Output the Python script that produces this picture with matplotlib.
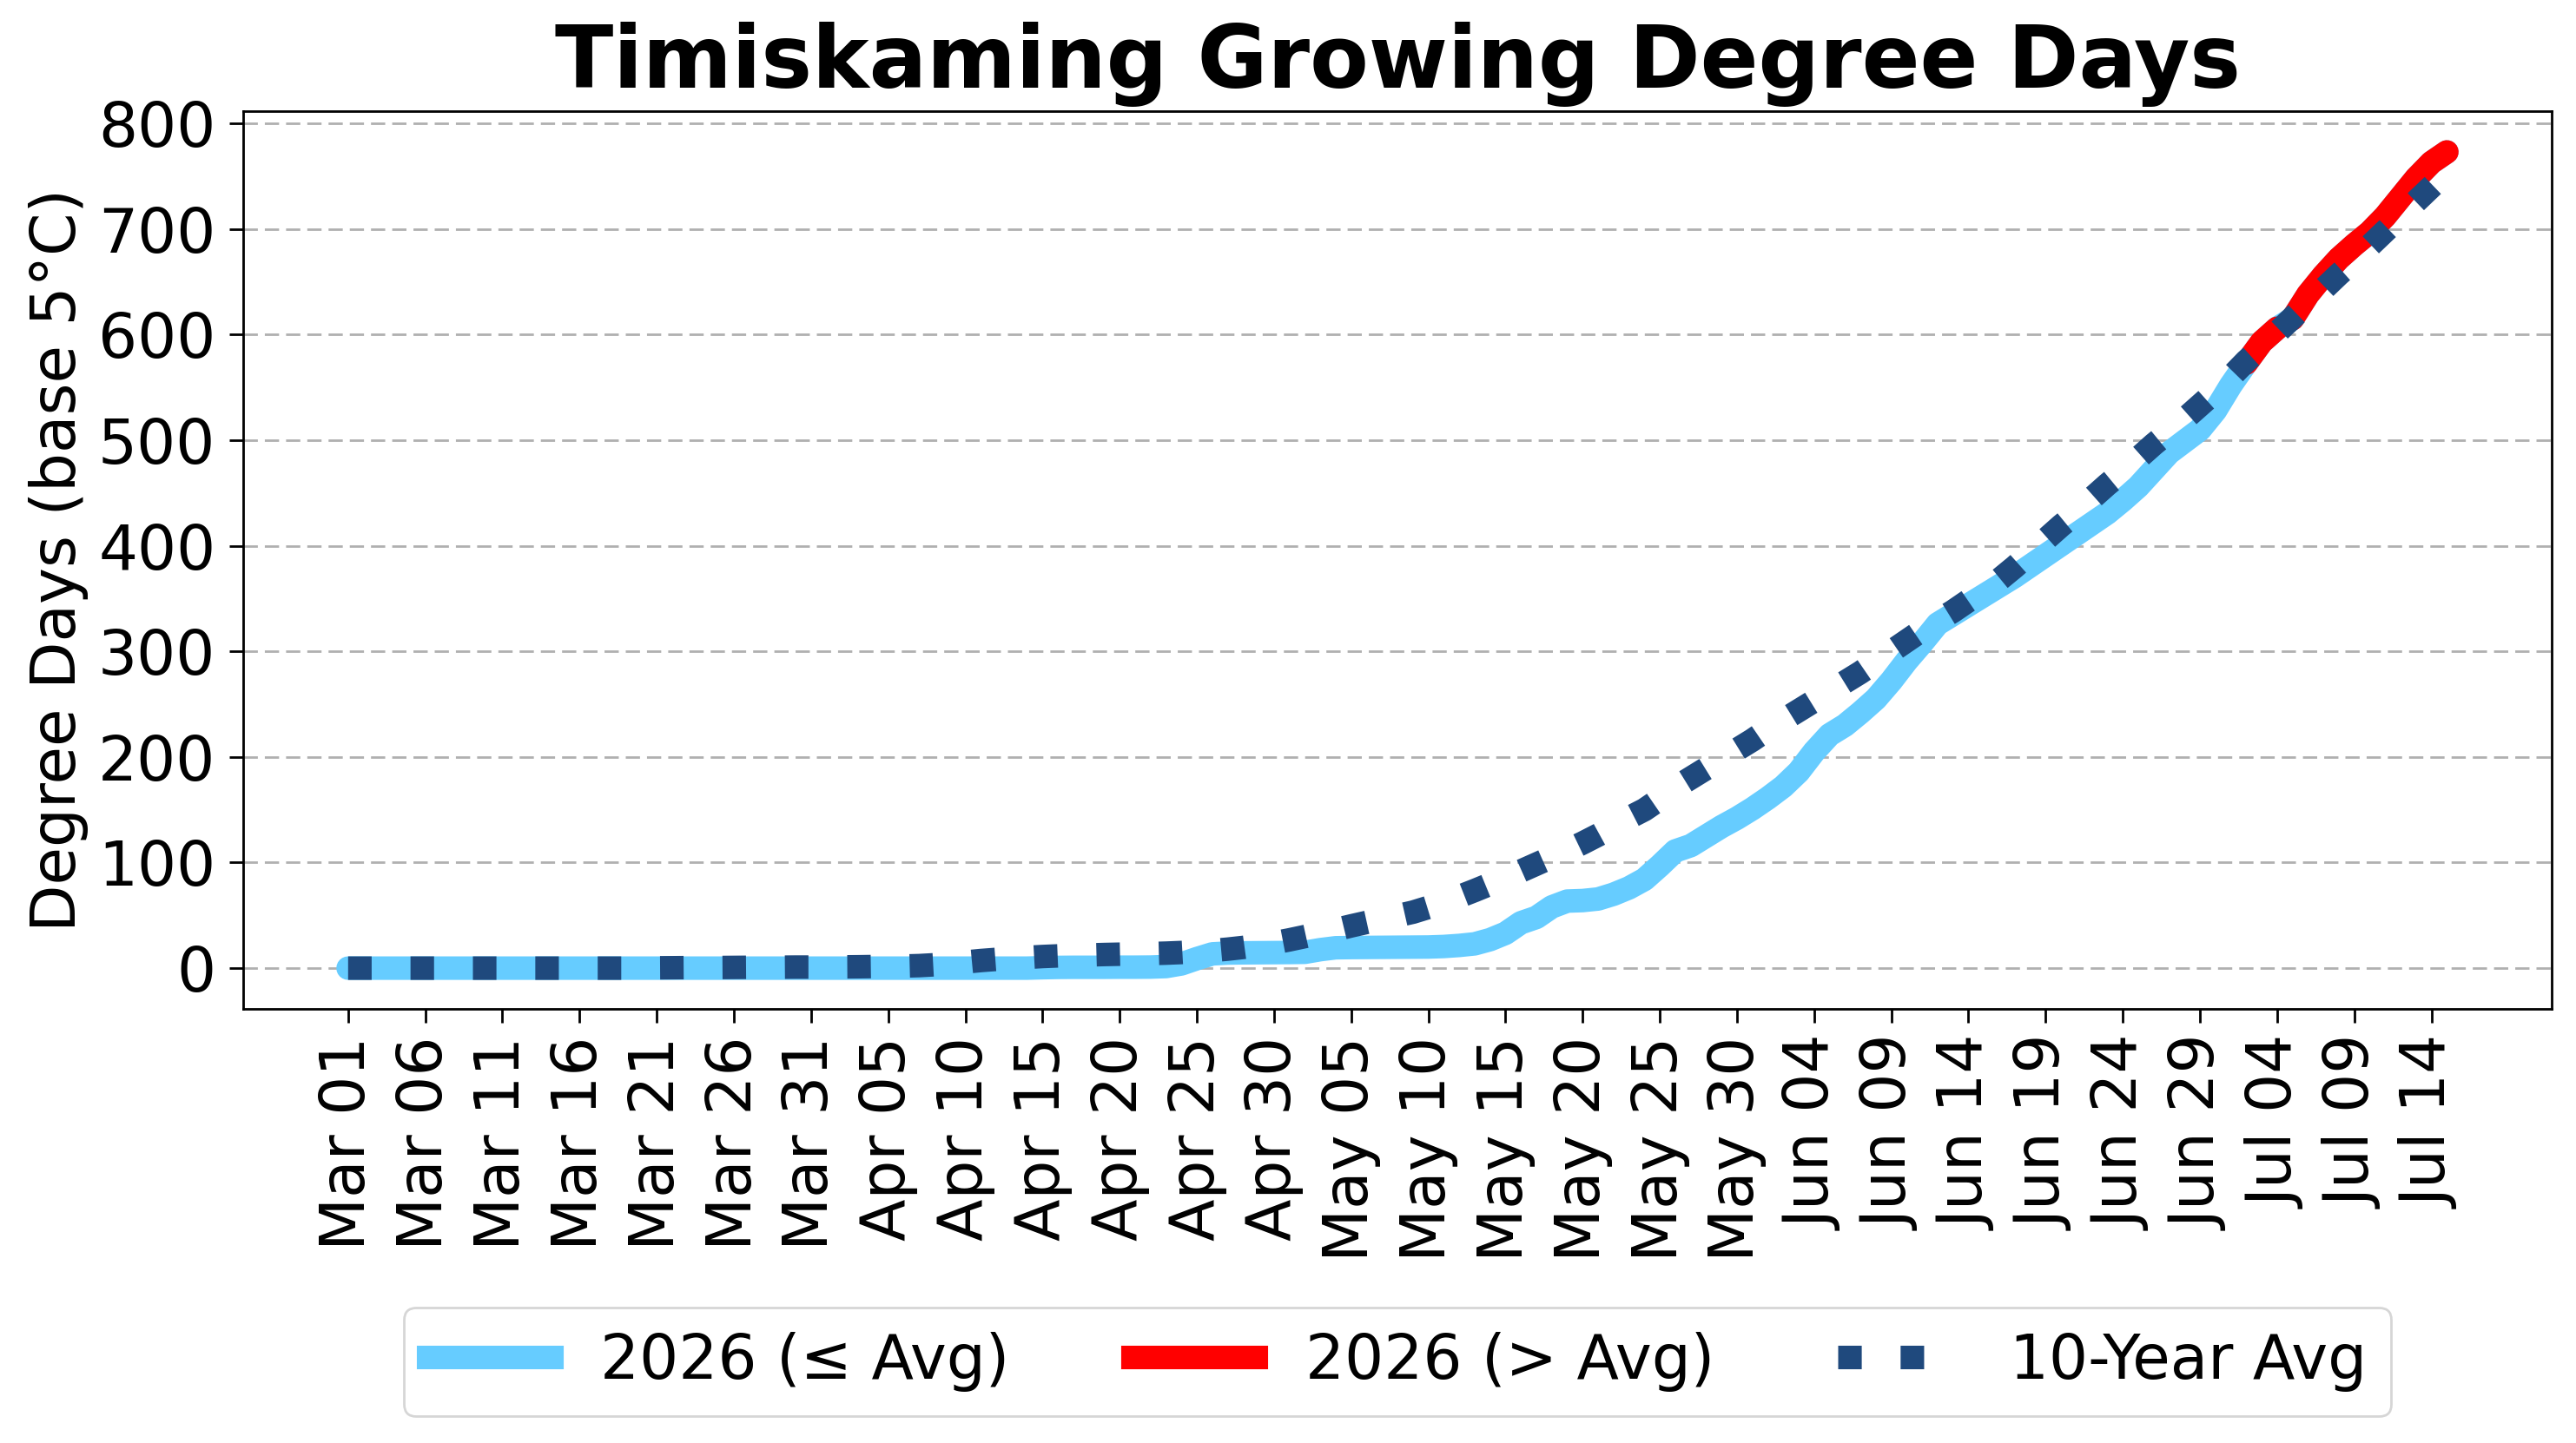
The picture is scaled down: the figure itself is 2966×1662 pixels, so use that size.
import numpy as np
import pandas as pd
import matplotlib
matplotlib.use("Agg")
import matplotlib.pyplot as plt
from matplotlib.lines import Line2D
from matplotlib.ticker import MultipleLocator

# --- data (cumulative GDD, base 5C), one value per day from Mar 01 ---
start_date = "2026-03-01"

gdd_2026 = [
    0, 0, 0, 0, 0, 0, 0, 0, 0, 0,                       # Mar 01-10
    0, 0, 0, 0, 0, 0, 0, 0, 0, 0,                       # Mar 11-20
    0, 0, 0, 0, 0, 0, 0, 0, 0, 0,                       # Mar 21-30
    0, 0, 0, 0, 0, 0, 0, 0, 0, 0,                       # Mar 31-Apr 09
    0, 0, 0, 0, 0, 0.4, 0.7, 0.8, 0.8, 0.8,             # Apr 10-19
    0.9, 0.9, 1.0, 1.5, 4, 9, 13.5, 14.3, 14.5, 14.6,   # Apr 20-29
    14.7, 14.8, 15, 17.5, 19.3, 19.5, 19.6, 19.7, 19.8, 19.9,  # Apr 30-May 09
    20, 20.5, 21.5, 23, 27, 33, 43, 48, 58, 63.5,       # May 10-19
    64, 65.5, 70, 76, 84, 97, 111, 116, 125, 134,       # May 20-29
    142, 151, 161, 172, 186, 205, 221, 230, 242, 255,   # May 30-Jun 08
    272, 291, 308, 326, 335, 344, 353, 362, 371, 381,   # Jun 09-18
    391, 401, 411, 421, 431, 443, 456, 472, 488, 499,   # Jun 19-28
    510, 528, 552, 573, 593, 606, 615, 638, 656, 672,   # Jun 29-Jul 08
    685, 697, 712, 730, 748, 763, 773,                  # Jul 09-15
]

gdd_avg = [
    0, 0, 0, 0, 0, 0, 0, 0, 0, 0,
    0, 0, 0, 0, 0, 0, 0, 0, 0, 0,
    0.3, 0.4, 0.5, 0.5, 0.6, 0.7, 0.8, 0.8, 0.9, 1.0,
    1.0, 1.1, 1.2, 1.3, 1.5, 1.7, 2.0, 2.4, 3.2, 4.3,
    5.8, 7.2, 8.3, 9.3, 10.2, 11.0, 11.6, 12.1, 12.5, 12.9,
    13.2, 13.5, 13.8, 14.2, 14.8, 15.6, 16.7, 18.0, 19.6, 21.6,
    24.0, 26.8, 29.9, 33.1, 36.5, 40.0, 43.3, 46.5, 49.7, 53.0,
    57.5, 62.5, 67.8, 73.5, 79.5, 85.5, 92, 98.5, 105, 111.5,
    118.5, 126, 134, 142.5, 150, 160, 171, 180, 189, 198,
    207, 216, 226, 235, 244, 253, 262, 271, 280, 290,
    300, 310, 320, 329, 338, 348, 358, 368, 380, 393,
    406, 419, 431, 445, 458, 470, 483, 496, 508, 520,
    533, 546, 560, 575, 588, 602, 616, 630, 643, 657,
    670, 684, 698, 712, 726, 740, 754,
]

dates = pd.date_range(start_date, periods=len(gdd_2026), freq="D")
cur = np.array(gdd_2026, dtype=float)
avg = np.array(gdd_avg, dtype=float)

# pixel-matched sizes (figure drawn at 200 dpi)
LW = 9.76
FS = 25.5
LIGHT_BLUE = "#66ccff"
RED = "#ff0000"
NAVY = "#1f497d"

fig = plt.figure(figsize=(14.83, 8.31), dpi=200)
ax = fig.add_axes([0.0944, 0.3008, 0.8962, 0.6222])

# full season line first, then red runs on top where the segment ends above avg
ax.plot(dates, cur, color=LIGHT_BLUE, lw=LW, solid_capstyle="round",
        solid_joinstyle="round", zorder=2)

above = cur > avg
i = 0
n = len(cur)
while i < n - 1:
    if above[i + 1]:
        j = i + 1
        while j < n - 1 and above[j + 1]:
            j += 1
        ax.plot(dates[i:j + 1], cur[i:j + 1], color=RED, lw=LW,
                solid_capstyle="round", solid_joinstyle="round", zorder=3)
        i = j
    else:
        i += 1

ax.plot(dates, avg, color=NAVY, lw=LW, linestyle=":", zorder=4)

ax.set_title("Timiskaming Growing Degree Days", fontsize=35.5,
             fontweight="bold", pad=9.7)
ax.set_ylabel("Degree Days (base 5°C)", fontsize=FS)

tick_dates = dates[::5]
ax.set_xticks(tick_dates)
ax.set_xticklabels([d.strftime("%b %d") for d in tick_dates], rotation=90)
ax.yaxis.set_major_locator(MultipleLocator(100))
ax.tick_params(axis="both", labelsize=FS, length=5.7, width=1.0, pad=5.7)

ax.set_axisbelow(True)
ax.yaxis.grid(True, color="#b0b0b0", linewidth=1.0, linestyle=(0, (5.9, 2.9)))
for sp in ax.spines.values():
    sp.set_linewidth(1.0)

handles = [
    Line2D([0], [0], color=LIGHT_BLUE, lw=LW),
    Line2D([0], [0], color=RED, lw=LW),
    Line2D([0], [0], color=NAVY, lw=LW, linestyle=":"),
]
ax.legend(handles, ["2026 (≤ Avg)", "2026 (> Avg)", "10-Year Avg"],
          loc="upper center", bbox_to_anchor=(0.5, -0.298), ncol=3,
          fontsize=FS)

fig.savefig("out.png", dpi=200)
